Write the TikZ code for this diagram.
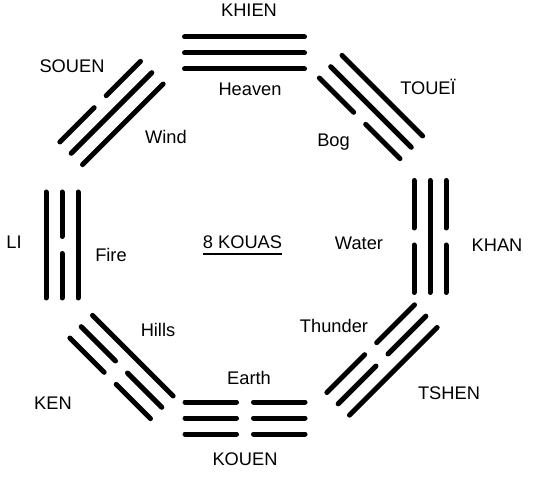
\documentclass[tikz,border=0pt]{standalone}
\usepackage{fontspec}
\setmainfont{Liberation Sans}

\begin{document}
\begin{tikzpicture}[yao/.style={line width=3.75pt, line cap=round},
    kouatext/.style={anchor=base, inner sep=0pt},
    x=0.75pt,y=0.75pt,font=\fontsize{13.7}{16}\selectfont]
% one line of a koua: offset, half length, 1 = solid / 0 = broken
\def\yaoline#1#2#3{%
  \ifnum#3=1
    \draw[yao] (-#2,#1) -- (#2,#1);
  \else
    \draw[yao] (-#2,#1) -- (-8.5,#1) (8.5,#1) -- (#2,#1);
  \fi}
% centre, rotation, half length, inner / middle / outer line
\def\koua#1#2#3#4#5#6{%
  \begin{scope}[shift={#1},rotate=#2]
    \yaoline{-16}{#3}{#4}
    \yaoline{0}{#3}{#5}
    \yaoline{16}{#3}{#6}
  \end{scope}}

\useasboundingbox (0,0) rectangle (541,481);

    \koua{(244.5,428)}{0}{60}{1}{1}{1}
    \koua{(371,374)}{-45}{57}{0}{1}{1}
    \koua{(430,244.5)}{-90}{56}{0}{1}{0}
    \koua{(382,121)}{-135}{62}{0}{0}{1}
    \koua{(245,63)}{180}{60}{0}{0}{0}
    \koua{(121.5,114)}{135}{57}{1}{0}{0}
    \koua{(62,236)}{90}{53}{1}{0}{1}
    \koua{(111.5,368)}{45}{57}{1}{1}{0}

    \node[kouatext] (khien)  at (249,464)   {KHIEN};
    \node[kouatext] (heaven) at (250,385)   {Heaven};
    \node[kouatext] (touei)  at (428,386)   {TOUEÏ};
    \node[kouatext] (bog)    at (333.5,334) {Bog};
    \node[kouatext] (khan)   at (497,229)   {KHAN};
    \node[kouatext] (water)  at (359,231)   {Water};
    \node[kouatext] (tshen)  at (449,82)    {TSHEN};
    \node[kouatext] (thunder) at (334,148)  {Thunder};
    \node[kouatext] (kouen)  at (245,16)    {KOUEN};
    \node[kouatext] (earth)  at (249,96)    {Earth};
    \node[kouatext] (ken)    at (53,72)     {KEN};
    \node[kouatext] (hills)  at (158,144)   {Hills};
    \node[kouatext] (li)     at (14,232)    {LI};
    \node[kouatext] (fire)   at (111,219)   {Fire};
    \node[kouatext] (souen)  at (72,408)    {SOUEN};
    \node[kouatext] (wind)   at (166,337)   {Wind};

    \node[kouatext] (kouas)  at (242.5,232) {8 KOUAS};
    \draw[line width=0.9pt] ([yshift=-3.75pt]kouas.base west) -- ([yshift=-3.75pt]kouas.base east);

\end{tikzpicture}
\end{document}
